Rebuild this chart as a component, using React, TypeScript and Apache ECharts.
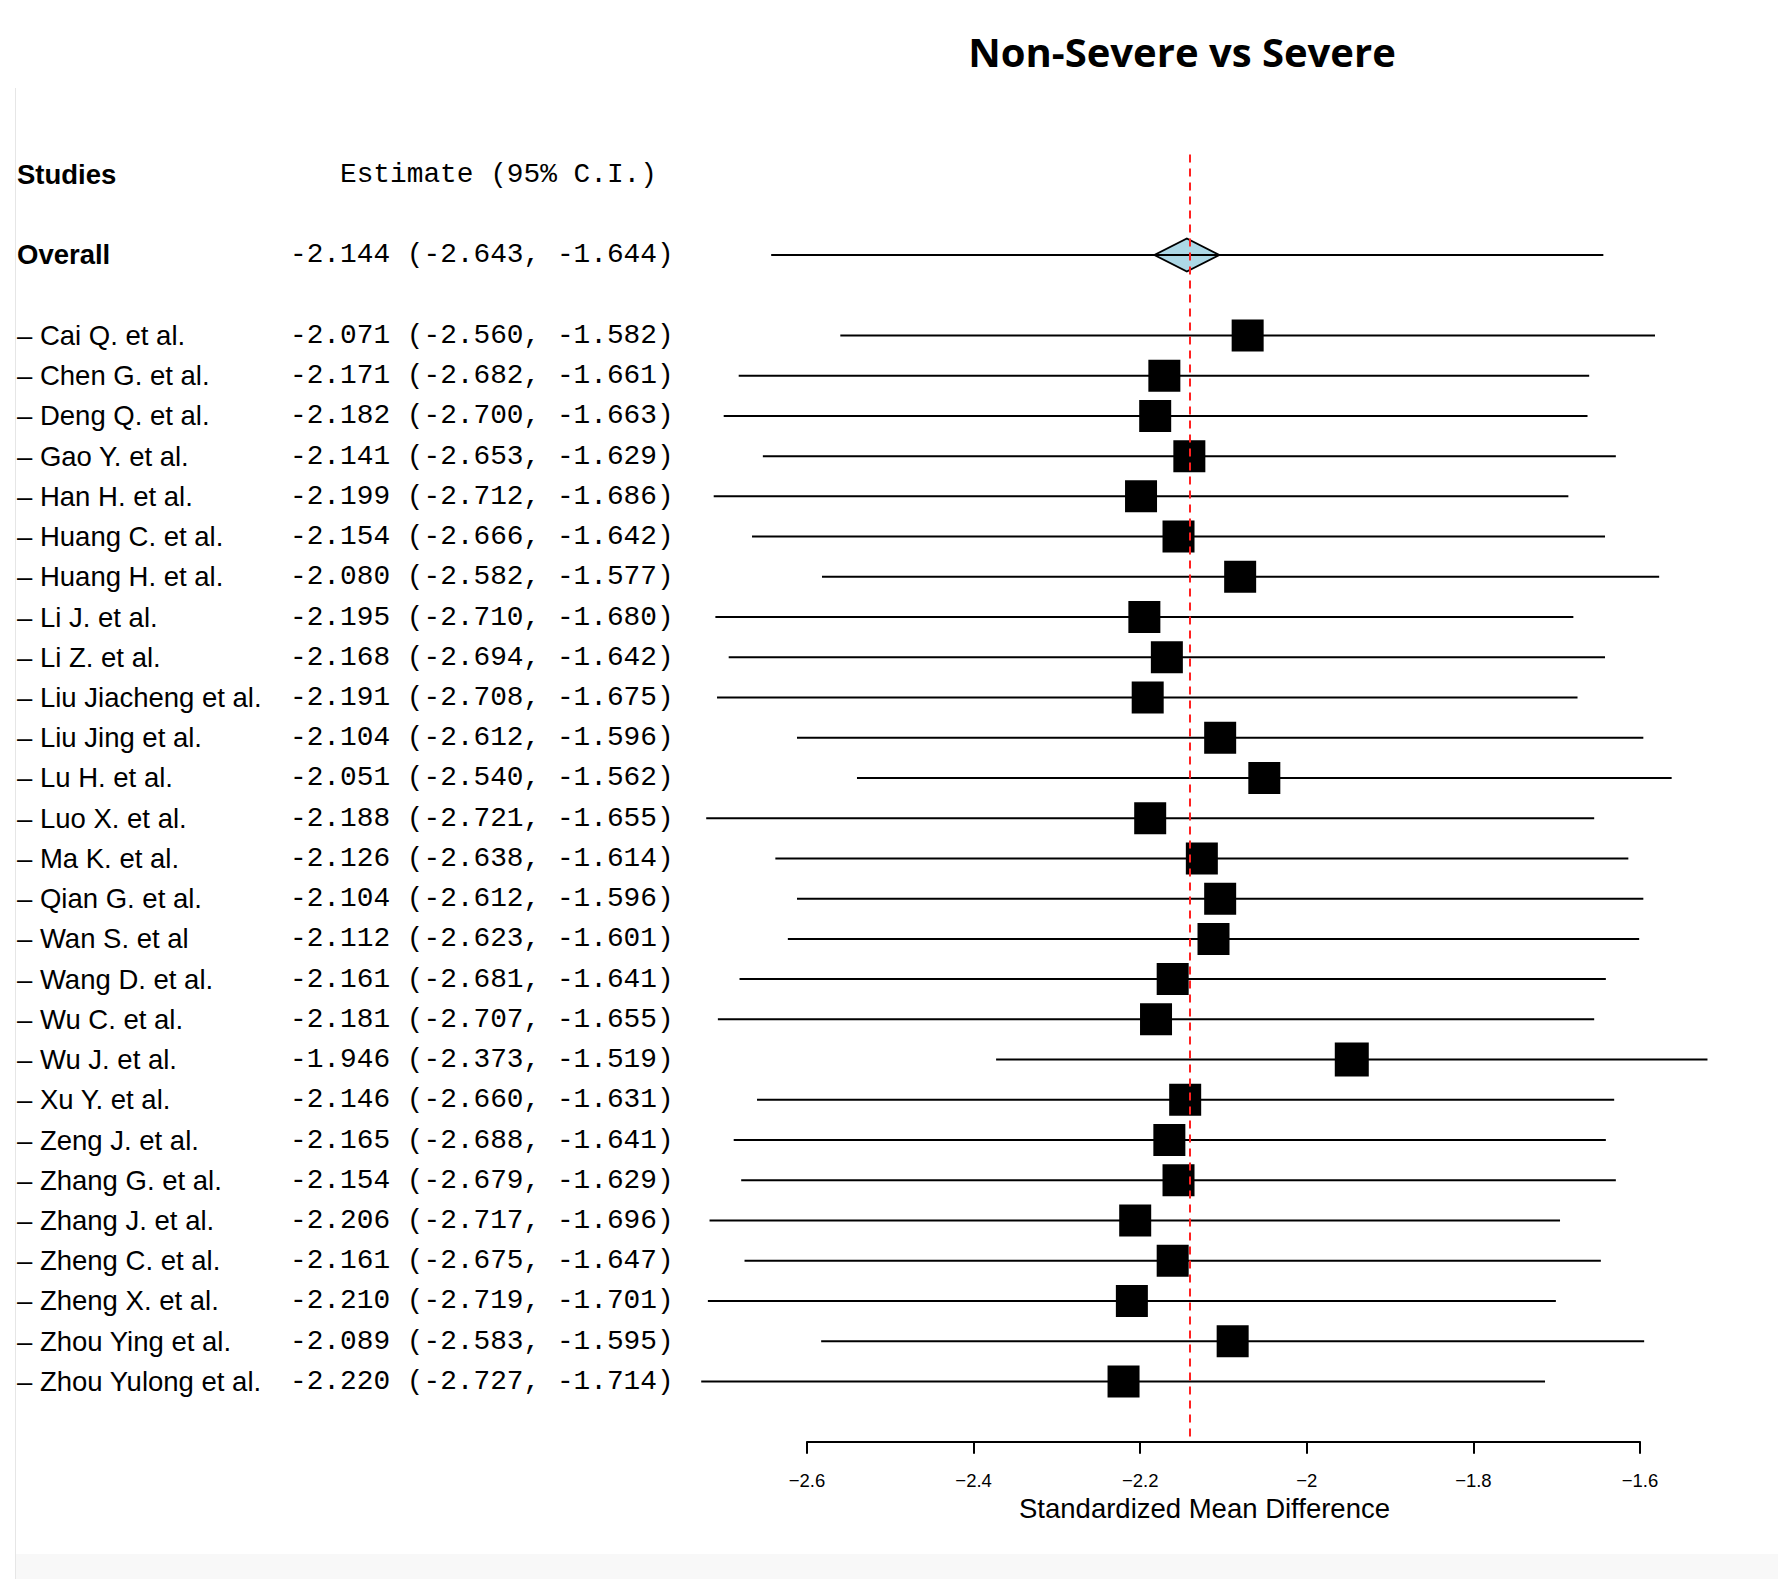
import React, { useEffect, useRef } from "react";
import * as echarts from "echarts";

const studyNames = [
  "Cai Q. et al.", "Chen G. et al.", "Deng Q. et al.", "Gao Y. et al.", "Han H. et al.",
  "Huang C. et al.", "Huang H. et al.", "Li J. et al.", "Li Z. et al.", "Liu Jiacheng et al.",
  "Liu Jing et al.", "Lu H. et al.", "Luo X. et al.", "Ma K. et al.", "Qian G. et al.",
  "Wan S. et al", "Wang D. et al.", "Wu C. et al.", "Wu J. et al.", "Xu Y. et al.",
  "Zeng J. et al.", "Zhang G. et al.", "Zhang J. et al.", "Zheng C. et al.", "Zheng X. et al.",
  "Zhou Ying et al.", "Zhou Yulong et al.",
];
const estimates = [
  -2.071, -2.171, -2.182, -2.141, -2.199, -2.154, -2.08, -2.195, -2.168, -2.191,
  -2.104, -2.051, -2.188, -2.126, -2.104, -2.112, -2.161, -2.181, -1.946, -2.146,
  -2.165, -2.154, -2.206, -2.161, -2.21, -2.089, -2.22,
];
const ciLower = [
  -2.56, -2.682, -2.7, -2.653, -2.712, -2.666, -2.582, -2.71, -2.694, -2.708,
  -2.612, -2.54, -2.721, -2.638, -2.612, -2.623, -2.681, -2.707, -2.373, -2.66,
  -2.688, -2.679, -2.717, -2.675, -2.719, -2.583, -2.727,
];
const ciUpper = [
  -1.582, -1.661, -1.663, -1.629, -1.686, -1.642, -1.577, -1.68, -1.642, -1.675,
  -1.596, -1.562, -1.655, -1.614, -1.596, -1.601, -1.641, -1.655, -1.519, -1.631,
  -1.641, -1.629, -1.696, -1.647, -1.701, -1.595, -1.714,
];
const squareSizes = [
  32, 32, 32, 32, 32, 32, 32, 32, 32, 32, 32, 32, 32, 32, 32, 32, 32, 32, 34, 32,
  32, 32, 32, 32, 32, 32, 32,
];
const overallEstimate = -2.144;
const overallLower = -2.643;
const overallUpper = -1.644;
const xTicks = [-2.6, -2.4, -2.2, -2, -1.8, -1.6];

const chartTitle = "Non-Severe vs Severe";
const xTitle = "Standardized Mean Difference";
const studiesHeader = "Studies";
const estimateHeader = "Estimate (95% C.I.)";
const overallLabel = "Overall";

const fmt = (v: number) => v.toFixed(3);
const ciText = (e: number, l: number, u: number) => `${fmt(e)} (${fmt(l)}, ${fmt(u)})`;

// rows: 0 header, 1 blank, 2 overall, 3 blank, 4.. studies, last blank
const FIRST_STUDY_ROW = 4;
const OVERALL_ROW = 2;
const rowCount = FIRST_STUDY_ROW + studyNames.length + 1;
const rowKeys = Array.from({ length: rowCount }, (_, i) => "r" + i);
const nameLabels: string[] = rowKeys.map(() => "");
const estLabels: string[] = rowKeys.map(() => "");
nameLabels[0] = `{b|${studiesHeader}}`;
estLabels[0] = `{h|${estimateHeader}}`;
nameLabels[OVERALL_ROW] = `{b|${overallLabel}}`;
estLabels[OVERALL_ROW] = `{m|${ciText(overallEstimate, overallLower, overallUpper)}}`;
studyNames.forEach((n, i) => {
  nameLabels[FIRST_STUDY_ROW + i] = `{n|– ${n}}`;
  estLabels[FIRST_STUDY_ROW + i] = `{m|${ciText(estimates[i], ciLower[i], ciUpper[i])}}`;
});

const SANS = '"Liberation Sans", Arial, sans-serif';
const MONO = '"Liberation Mono", "Courier New", monospace';

export default function App() {
  const ref = useRef<HTMLDivElement>(null);
  useEffect(() => {
    if (!ref.current) return;
    const chart = echarts.init(ref.current, undefined, { renderer: "svg" });
    const gridLeft = 807;
    const gridWidth = 833;
    const gridTop = 154.4;
    const rowH = 40.23;
    const gridHeight = rowH * rowCount;

    const ciData = [
      [overallLower, overallUpper, OVERALL_ROW],
      ...studyNames.map((_, i) => [ciLower[i], ciUpper[i], FIRST_STUDY_ROW + i]),
    ];

    chart.setOption({
      animation: false,
      backgroundColor: "#ffffff",
      grid: {
        left: gridLeft,
        top: gridTop,
        width: gridWidth,
        height: gridHeight,
        containLabel: false,
      },
      xAxis: {
        type: "value",
        min: -2.6,
        max: -1.6,
        interval: 0.2,
        position: "bottom",
        axisLine: { show: true, onZero: false, lineStyle: { color: "#000", width: 2 } },
        axisTick: { show: true, length: 12, lineStyle: { color: "#000", width: 2 } },
        splitLine: { show: false },
        axisLabel: {
          color: "#000",
          fontFamily: SANS,
          fontSize: 18.5,
          margin: 29,
          customValues: xTicks,
          formatter: (v: number) => String(Math.round(v * 10) / 10).replace("-", "−"),
        },
        name: xTitle,
        nameLocation: "middle",
        nameGap: 51,
        nameTextStyle: {
          color: "#000",
          fontFamily: SANS,
          fontSize: 27.5,
          padding: [0, 38, 0, 0],
        },
      },
      yAxis: [
        {
          type: "category",
          data: rowKeys,
          inverse: true,
          boundaryGap: true,
          position: "left",
          axisLine: { show: false },
          axisTick: { show: false },
          splitLine: { show: false },
          axisLabel: {
            interval: 0,
            align: "left",
            margin: gridLeft - 17,
            formatter: (_v: string, idx: number) => nameLabels[idx] || "",
            rich: {
              b: { fontFamily: SANS, fontSize: 27.5, fontWeight: "bold", color: "#000" },
              n: { fontFamily: SANS, fontSize: 27.5, color: "#000" },
            },
          },
        },
        {
          type: "category",
          data: rowKeys,
          inverse: true,
          boundaryGap: true,
          position: "left",
          axisLine: { show: false },
          axisTick: { show: false },
          splitLine: { show: false },
          axisLabel: {
            interval: 0,
            align: "left",
            margin: gridLeft - 290,
            formatter: (_v: string, idx: number) => estLabels[idx] || "",
            rich: {
              m: { fontFamily: MONO, fontSize: 27.8, color: "#000" },
              h: { fontFamily: MONO, fontSize: 27.8, color: "#000", padding: [0, 0, 0, 50] },
            },
          },
        },
      ],
      series: [
        {
          type: "scatter",
          name: "overall",
          z: 2,
          symbol: "diamond",
          symbolSize: [65, 33],
          itemStyle: { color: "#add8e6", borderColor: "#000", borderWidth: 2, opacity: 1 },
          data: [[overallEstimate, OVERALL_ROW]],
          silent: true,
          markLine: {
            silent: true,
            symbol: "none",
            label: { show: false },
            lineStyle: { color: "#ff2020", type: [8, 6], width: 2 },
            data: [{ xAxis: overallEstimate }],
          },
        },
        {
          type: "custom",
          name: "ci",
          z: 3,
          clip: false,
          encode: { x: [0, 1], y: 2 },
          data: ciData,
          renderItem: (_params: any, api: any) => {
            const p1 = api.coord([api.value(0), api.value(2)]);
            const p2 = api.coord([api.value(1), api.value(2)]);
            return {
              type: "line",
              shape: { x1: p1[0], y1: p1[1], x2: p2[0], y2: p2[1] },
              style: { stroke: "#000", lineWidth: 2 },
            };
          },
        },
        {
          type: "scatter",
          name: "studies",
          z: 4,
          clip: false,
          symbol: "rect",
          itemStyle: { color: "#000", opacity: 1 },
          data: studyNames.map((_, i) => ({
            value: [estimates[i], FIRST_STUDY_ROW + i],
            symbolSize: squareSizes[i],
          })),
          silent: true,
        },
      ],
      graphic: [
        {
          type: "text",
          x: 1182,
          y: 51,
          style: {
            text: chartTitle,
            font: 'bold 40px "Open Sans", sans-serif',
            fill: "#000",
            textAlign: "center",
            textVerticalAlign: "middle",
          },
        },
        {
          type: "line",
          shape: { x1: 15.5, y1: 88, x2: 15.5, y2: 1579 },
          style: { stroke: "#e6e6e6", lineWidth: 1 },
        },
        {
          type: "rect",
          shape: { x: 16, y: 1554, width: 1762, height: 25 },
          style: { fill: "#f8f8f8" },
        },
      ],
    });
    return () => chart.dispose();
  }, []);
  return (
    <div
      ref={ref}
      style={{ position: "absolute", left: 0, top: 0, width: 1778, height: 1579, background: "#fff" }}
    />
  );
}
